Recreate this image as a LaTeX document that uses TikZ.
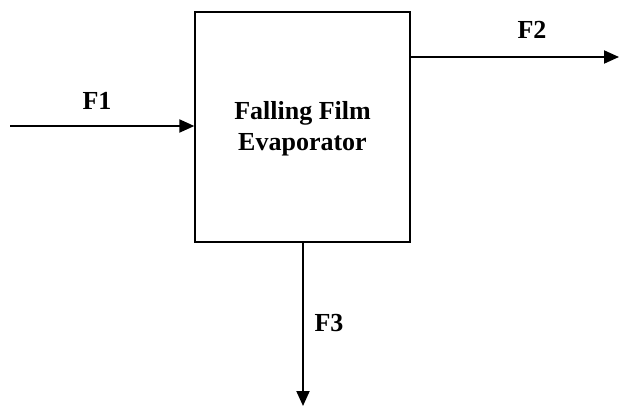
\documentclass[tikz,border=0pt]{standalone}
\usepackage{fontspec}
\setmainfont{Liberation Serif}
\usetikzlibrary{arrows.meta}

\begin{document}
\begin{tikzpicture}[x=1pt, y=-1pt, >={Triangle[length=15pt, width=13pt]}]

        \useasboundingbox (0,0) rectangle (619,407);

        % EVAPORATOR
        \node[draw, line width=1.3pt, minimum width=215pt, minimum height=230pt, inner sep=0pt,
              align=center, font=\fontsize{26}{31}\selectfont\bfseries] (evap) at (302.5,127) {\strut Falling Film\\Evaporator};

        % free ends of the streams
        \coordinate (f1start) at (10,126);
        \coordinate (f2end) at (619,57);
        \coordinate (f3end) at (303,406);

        % stream labels
        \node[font=\fontsize{26}{31}\selectfont\bfseries] (f1label) at (97,101) {F1};
        \node[font=\fontsize{26}{31}\selectfont\bfseries] (f2label) at (532,30) {F2};
        \node[font=\fontsize{26}{31}\selectfont\bfseries] (f3label) at (329,323) {F3};

        % streams
        \draw[->, line width=2pt] (f1start) -- (evap.west |- f1start);
        \draw[->, line width=2pt] (evap.east |- f2end) -- (f2end);
        \draw[->, line width=2pt] (evap.south -| f3end) -- (f3end);
    \end{tikzpicture}
\end{document}
